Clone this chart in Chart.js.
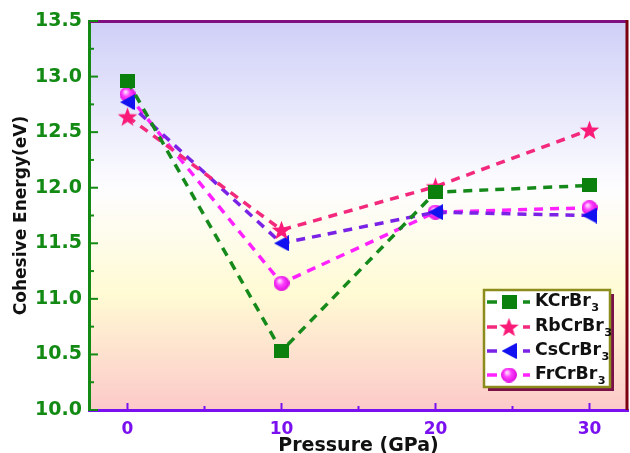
<!DOCTYPE html>
<html><head><meta charset="utf-8">
<script src="https://cdn.jsdelivr.net/npm/chart.js@4.4.1/dist/chart.umd.min.js"></script>
<style>html,body{margin:0;padding:0;background:#fff;}</style>
</head><body>
<canvas id="c" width="630" height="453"></canvas>
<script>
const pressure = [0, 10, 20, 30];
const seriesNames = ['KCrBr', 'RbCrBr', 'CsCrBr', 'FrCrBr'];
const seriesSub = ['3', '3', '3', '3'];
const kValues  = [12.96, 10.53, 11.96, 12.02];
const rbValues = [12.64, 11.62, 12.01, 12.52];
const csValues = [12.77, 11.50, 11.78, 11.75];
const frValues = [12.84, 11.14, 11.78, 11.82];
const xTickValues = [0, 10, 20, 30];
const xMinorValues = [5, 15, 25];
const yTickValues = [10.0, 10.5, 11.0, 11.5, 12.0, 12.5, 13.0, 13.5];
const yMinorValues = [10.25, 10.75, 11.25, 11.75, 12.25, 12.75, 13.25];

const FONT = '"DejaVu Sans", Arial, sans-serif';

function mk(w, h, draw) {
  const c = document.createElement('canvas');
  c.width = w; c.height = h;
  draw(c.getContext('2d'), w, h);
  return c;
}
const squareImg = mk(15, 14, (g, w, h) => { g.fillStyle = '#0c800c'; g.fillRect(0, 0, w, h); });
const starImg = mk(21, 20, (g, w, h) => {
  g.fillStyle = '#fa1a78';
  g.beginPath();
  const cx = w / 2, cy = h / 2 + 1, R = 10.3, r = 4.2;
  for (let i = 0; i < 10; i++) {
    const a = -Math.PI / 2 + i * Math.PI / 5;
    const rr = i % 2 ? r : R;
    const px = cx + rr * Math.cos(a), py = cy + rr * Math.sin(a);
    i ? g.lineTo(px, py) : g.moveTo(px, py);
  }
  g.closePath(); g.fill();
});
const triImg = mk(15, 16, (g, w, h) => {
  g.fillStyle = '#1212f0';
  g.beginPath(); g.moveTo(0, h / 2); g.lineTo(w, 0); g.lineTo(w, h); g.closePath(); g.fill();
});
const sphereImg = mk(16, 15, (g, w, h) => {
  const gr = g.createRadialGradient(6, 5, 1, 8, 7.5, 9);
  gr.addColorStop(0, '#ffd0ff');
  gr.addColorStop(0.35, '#ff40ff');
  gr.addColorStop(1, '#d400d4');
  g.fillStyle = gr;
  g.beginPath(); g.ellipse(w / 2, h / 2, w / 2, h / 2, 0, 0, Math.PI * 2); g.fill();
});

function pts(vals) { return pressure.map((p, i) => ({ x: p, y: vals[i] })); }

const lineColors = ['#15891a', '#f2297c', '#7a22e6', '#ff22ff'];
const markers = [squareImg, starImg, triImg, sphereImg];
const allVals = [kValues, rbValues, csValues, frValues];

const datasets = allVals.map((v, i) => ({
  label: seriesNames[i] + seriesSub[i],
  data: pts(v),
  borderColor: lineColors[i],
  backgroundColor: lineColors[i],
  borderWidth: 3.5,
  borderDash: [9, 7],
  pointStyle: markers[i],
  pointRadius: 8,
  showLine: true,
  fill: false,
  tension: 0
}));

const bgPlugin = {
  id: 'bg',
  beforeDraw(chart) {
    const { ctx, chartArea: a } = chart;
    const g = ctx.createLinearGradient(0, a.top, 0, a.bottom);
    g.addColorStop(0, '#cfcff8');
    g.addColorStop(0.43, '#fdfdff');
    g.addColorStop(0.7, '#fffbd4');
    g.addColorStop(1, '#fcc9c9');
    ctx.save();
    ctx.fillStyle = g;
    ctx.fillRect(a.left, a.top, a.right - a.left, a.bottom - a.top);
    ctx.restore();
  }
};

const frame = {
  id: 'frame',
  afterDatasetsDraw(chart) {
    const { ctx, chartArea: a, scales: { x, y } } = chart;
    ctx.save();
    ctx.lineWidth = 3;
    ctx.strokeStyle = '#80107f';
    ctx.beginPath(); ctx.moveTo(a.left, a.top + 0.5); ctx.lineTo(a.right, a.top + 0.5); ctx.stroke();
    ctx.strokeStyle = '#7a0010';
    ctx.beginPath(); ctx.moveTo(a.right - 1, a.top - 1); ctx.lineTo(a.right - 1, a.bottom); ctx.stroke();
    ctx.strokeStyle = '#138a13'; ctx.lineWidth = 2;
    yTickValues.forEach(v => { const p = y.getPixelForValue(v); ctx.beginPath(); ctx.moveTo(a.left, p); ctx.lineTo(a.left + 9, p); ctx.stroke(); });
    yMinorValues.forEach(v => { const p = y.getPixelForValue(v); ctx.beginPath(); ctx.moveTo(a.left, p); ctx.lineTo(a.left + 5, p); ctx.stroke(); });
    ctx.strokeStyle = '#7a10f0';
    xTickValues.forEach(v => { const p = x.getPixelForValue(v); ctx.beginPath(); ctx.moveTo(p, a.bottom); ctx.lineTo(p, a.bottom - 7); ctx.stroke(); });
    xMinorValues.forEach(v => { const p = x.getPixelForValue(v); ctx.beginPath(); ctx.moveTo(p, a.bottom); ctx.lineTo(p, a.bottom - 4); ctx.stroke(); });
    ctx.restore();
  }
};

const legendPlugin = {
  id: 'customLegend',
  afterDraw(chart) {
    const { ctx } = chart;
    const bx = 484, by = 290, bw = 126, bh = 97;
    ctx.save();
    ctx.fillStyle = '#7a1048';
    ctx.fillRect(bx + 4, by + 4, bw, bh);
    ctx.fillStyle = '#ffffff';
    ctx.fillRect(bx, by, bw, bh);
    ctx.strokeStyle = '#8c8c1c'; ctx.lineWidth = 2.5;
    ctx.strokeRect(bx, by, bw, bh);
    const rows = [302, 327, 351, 375];
    rows.forEach((ry, i) => {
      ctx.strokeStyle = lineColors[i]; ctx.lineWidth = 3.5; ctx.setLineDash([]);
      ctx.beginPath(); ctx.moveTo(bx + 3, ry); ctx.lineTo(bx + 13, ry); ctx.stroke();
      ctx.beginPath(); ctx.moveTo(bx + 39, ry); ctx.lineTo(bx + 46, ry); ctx.stroke();
      const m = markers[i];
      ctx.drawImage(m, bx + 25 - m.width / 2, ry - m.height / 2);
      ctx.save();
      ctx.translate(bx + 51, ry);
      ctx.scale(1.02, 1);
      ctx.fillStyle = '#111';
      ctx.textBaseline = 'middle';
      ctx.font = 'bold 17px ' + FONT;
      ctx.fillText(seriesNames[i], 0, 0);
      const w = ctx.measureText(seriesNames[i]).width;
      ctx.font = 'bold 11px ' + FONT;
      ctx.fillText(seriesSub[i], w + 0.5, 6);
      ctx.restore();
    });
    ctx.restore();
  }
};

new Chart(document.getElementById('c'), {
  type: 'line',
  data: { datasets },
  plugins: [bgPlugin, frame, legendPlugin],
  options: {
    responsive: false,
    animation: false,
    devicePixelRatio: 1,
    layout: { autoPadding: false, padding: { top: 21, right: 2, left: 0, bottom: 0 } },
    plugins: { legend: { display: false }, tooltip: { enabled: false } },
    scales: {
      x: {
        type: 'linear', min: -2.5, max: 32.5,
        afterBuildTicks: s => { s.ticks = xTickValues.map(v => ({ value: v })); },
        afterFit: s => { s.height = 43; s.paddingLeft = 0; s.paddingRight = 0; },
        grid: { display: false, drawTicks: false },
        border: { display: true, color: '#7a10f0', width: 3 },
        ticks: { color: '#7a10f0', font: { family: FONT, size: 17, weight: 'bold' }, padding: 9, maxRotation: 0 },
        title: { display: true, text: 'Pressure (GPa)', color: '#111', font: { family: FONT, size: 19, weight: 'bold' }, padding: { top: 0, bottom: -4 } }
      },
      y: {
        type: 'linear', min: 10, max: 13.5,
        afterBuildTicks: s => { s.ticks = yTickValues.map(v => ({ value: v })); },
        afterFit: s => { s.width = 89; s.paddingTop = 0; s.paddingBottom = 0; },
        grid: { display: false, drawTicks: false },
        border: { display: true, color: '#138a13', width: 3 },
        ticks: { color: '#138a13', font: { family: FONT, size: 19, weight: 'bold' }, padding: 7, callback: v => Number(v).toFixed(1) },
        title: { display: true, text: 'Cohesive Energy(eV)', color: '#111', font: { family: FONT, size: 17, weight: 'bold' }, padding: { top: 11, bottom: 0 } }
      }
    }
  }
});
</script>
</body></html>
